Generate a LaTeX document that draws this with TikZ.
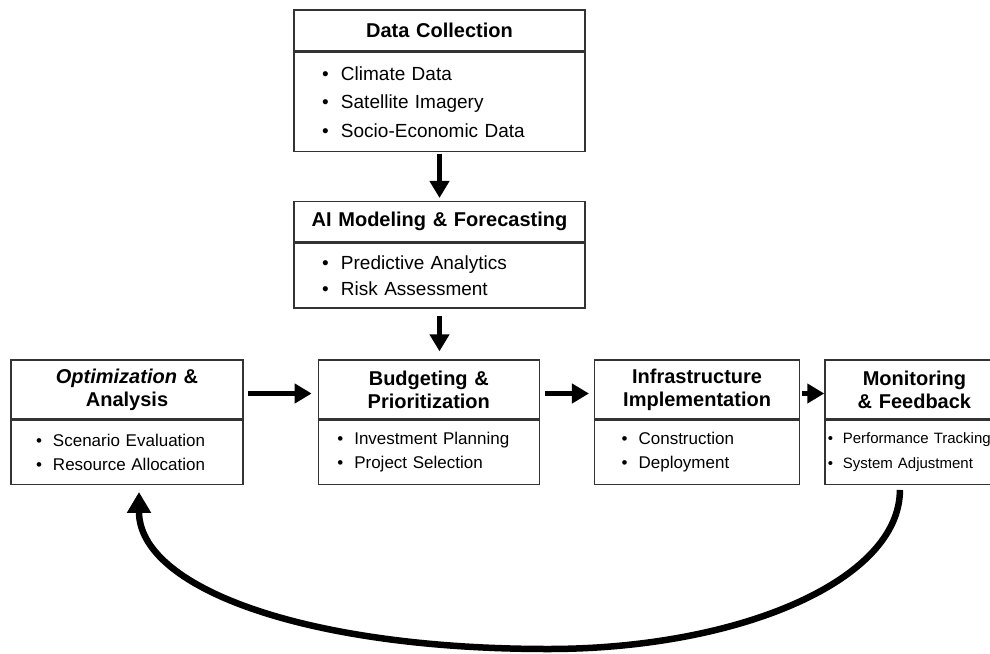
\documentclass[tikz,border=0pt]{standalone}
\usepackage{fontspec}
\setmainfont{Liberation Sans}
\usetikzlibrary{positioning,arrows.meta}

\newcommand{\bul}{\textbullet\hspace{0.65em}}

\begin{document}
\begin{tikzpicture}[%
		x=1pt, y=1pt,
		line width=1.3pt,
		node distance=0pt,
		head/.style={%
			draw=black!80,
			align=center,
			inner xsep=4pt,
			font=\bfseries\fontsize{20}{23}\selectfont
		},
		list/.style={%
			draw=black!80,
			align=left,
			font=\fontsize{17}{23.5}\selectfont
		},
		flow/.style={%
			-{Triangle[length=17pt,width=19pt]},
			line width=5.5pt
		}
		]
		\useasboundingbox (0,0) rectangle (990,-653);
		
		% top column
		\node[head, text width=283pt, minimum height=41pt] (collect) at (439.5,-30.5) {Data Collection};
		\node[list, text width=235pt, inner xsep=28pt, minimum height=99pt,
			font=\fontsize{19}{28.5}\selectfont] (collectlist) [below=of collect]
			{\bul Climate Data\\ \bul Satellite Imagery\\ \bul Socio-Economic Data};
		\node[head, text width=283pt, minimum height=40pt] (model) [below=49pt of collectlist] {AI Modeling \& Forecasting};
		\node[list, text width=235pt, inner xsep=28pt, minimum height=65pt,
			font=\fontsize{19}{26}\selectfont] (modellist) [below=of model]
			{\bul Predictive Analytics\\ \bul Risk Assessment};
		
		% bottom row
		\node[head, text width=224pt, minimum height=59pt] (optim) at (127,-389.5) {\textit{Optimization} \&\\Analysis};
		\node[list, text width=182pt, inner xsep=25pt, minimum height=64pt] (optimlist) [below=of optim]
			{\bul Scenario Evaluation\\ \bul Resource Allocation};
		\node[head, text width=213pt, minimum height=59pt] (budget) [right=74pt of optim] {Budgeting \&\\Prioritization};
		\node[list, text width=183pt, inner xsep=19pt, minimum height=64pt] (budgetlist) [below=of budget]
			{\bul Investment Planning\\ \bul Project Selection};
		\node[head, text width=197pt, minimum height=59pt] (build) [right=54pt of budget] {Infrastructure\\Implementation};
		\node[list, text width=151pt, inner xsep=27pt, minimum height=64pt] (buildlist) [below=of build]
			{\bul Construction\\ \bul Deployment};
		\node[head, text width=171pt, minimum height=59pt] (monitor) [right=24pt of build] {Monitoring\\\& Feedback};
		\node[list, text width=173pt, inner xsep=3pt, minimum height=64pt,
			font=\fontsize{15}{25}\selectfont] (monitorlist) [below=of monitor]
			{\bul Performance Tracking\\ \bul System Adjustment};
		
		\coordinate (low) at (548,-649);
		
		\path[flow] (collectlist) edge[shorten <=2pt, shorten >=3pt] (model)
		(modellist) edge[shorten <=7pt, shorten >=8pt] (modellist |- budget.north)
		([yshift=-4pt]optim.east) edge[shorten <=4pt, shorten >=6pt] ([yshift=-4pt]budget.west)
		([yshift=-4pt]budget.east) edge[shorten <=5pt, shorten >=5pt] ([yshift=-4pt]build.west)
		([yshift=-4pt]build.east) edge[shorten <=2pt] ([yshift=-4pt]monitor.west);
		
		% feedback loop
		\draw[flow, line width=6.5pt, -{Triangle[length=21pt,width=23pt]}, shorten <=5pt, shorten >=7pt]
		([xshift=-14.5pt]monitorlist.south) .. controls +(0,-95) and +(192,0) .. (low)
		.. controls +(-245,0) and +(0,-102) .. ([xshift=12pt]optimlist.south);
\end{tikzpicture}
\end{document}
